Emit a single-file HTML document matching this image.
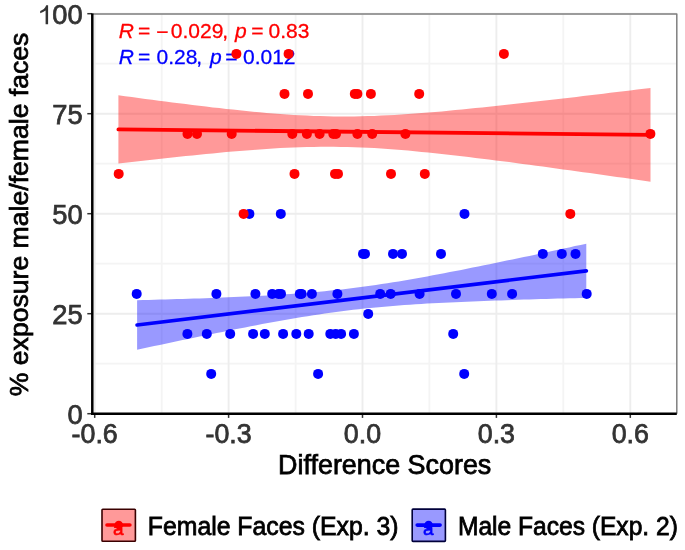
<!DOCTYPE html>
<html><head><meta charset="utf-8"><style>
html,body{margin:0;padding:0;background:#fff;}
svg{display:block;filter:blur(0.4px);}
text{font-family:"Liberation Sans",sans-serif;}
</style></head><body>
<svg width="685" height="550" viewBox="0 0 685 550">
<rect x="0" y="0" width="685" height="550" fill="#fff"/>
<g stroke="#F4F4F4" stroke-width="1.8"><line x1="161.7" y1="14.0" x2="161.7" y2="413.7"/><line x1="295.6" y1="14.0" x2="295.6" y2="413.7"/><line x1="429.4" y1="14.0" x2="429.4" y2="413.7"/><line x1="563.3" y1="14.0" x2="563.3" y2="413.7"/><line x1="92.3" y1="363.7" x2="676.8" y2="363.7"/><line x1="92.3" y1="263.7" x2="676.8" y2="263.7"/><line x1="92.3" y1="163.7" x2="676.8" y2="163.7"/><line x1="92.3" y1="63.7" x2="676.8" y2="63.7"/></g>
<g stroke="#EDEDED" stroke-width="1.9"><line x1="94.7" y1="14.0" x2="94.7" y2="413.7"/><line x1="228.6" y1="14.0" x2="228.6" y2="413.7"/><line x1="362.5" y1="14.0" x2="362.5" y2="413.7"/><line x1="496.4" y1="14.0" x2="496.4" y2="413.7"/><line x1="630.3" y1="14.0" x2="630.3" y2="413.7"/><line x1="92.3" y1="413.7" x2="676.8" y2="413.7"/><line x1="92.3" y1="313.7" x2="676.8" y2="313.7"/><line x1="92.3" y1="213.7" x2="676.8" y2="213.7"/><line x1="92.3" y1="113.7" x2="676.8" y2="113.7"/><line x1="92.3" y1="13.7" x2="676.8" y2="13.7"/></g>
<path d="M137.1,300.2 L142.8,300.1 L148.5,299.9 L154.2,299.8 L159.8,299.6 L165.5,299.4 L171.2,299.3 L176.9,299.1 L182.6,298.9 L188.3,298.7 L194.0,298.6 L199.6,298.4 L205.3,298.2 L211.0,298.0 L216.7,297.7 L222.4,297.5 L228.1,297.3 L233.8,297.0 L239.4,296.8 L245.1,296.5 L250.8,296.3 L256.5,296.0 L262.2,295.7 L267.9,295.4 L273.6,295.0 L279.3,294.7 L284.9,294.3 L290.6,294.0 L296.3,293.6 L302.0,293.1 L307.7,292.7 L313.4,292.2 L319.1,291.7 L324.7,291.2 L330.4,290.6 L336.1,290.0 L341.8,289.4 L347.5,288.7 L353.2,288.0 L358.9,287.3 L364.5,286.5 L370.2,285.7 L375.9,284.9 L381.6,284.1 L387.3,283.2 L393.0,282.3 L398.7,281.4 L404.3,280.4 L410.0,279.4 L415.7,278.4 L421.4,277.4 L427.1,276.4 L432.8,275.3 L438.5,274.3 L444.1,273.2 L449.8,272.1 L455.5,271.0 L461.2,269.9 L466.9,268.8 L472.6,267.6 L478.3,266.5 L484.0,265.3 L489.6,264.2 L495.3,263.0 L501.0,261.8 L506.7,260.6 L512.4,259.5 L518.1,258.3 L523.8,257.1 L529.4,255.9 L535.1,254.7 L540.8,253.5 L546.5,252.2 L552.2,251.0 L557.9,249.8 L563.6,248.6 L569.2,247.4 L574.9,246.1 L580.6,244.9 L586.3,243.7 L586.3,297.9 L580.6,298.1 L574.9,298.2 L569.2,298.3 L563.6,298.5 L557.9,298.6 L552.2,298.8 L546.5,299.0 L540.8,299.1 L535.1,299.3 L529.4,299.5 L523.8,299.6 L518.1,299.8 L512.4,300.0 L506.7,300.2 L501.0,300.4 L495.3,300.6 L489.6,300.8 L484.0,301.0 L478.3,301.2 L472.6,301.4 L466.9,301.7 L461.2,301.9 L455.5,302.2 L449.8,302.4 L444.1,302.7 L438.5,303.0 L432.8,303.3 L427.1,303.6 L421.4,304.0 L415.7,304.3 L410.0,304.7 L404.3,305.1 L398.7,305.5 L393.0,306.0 L387.3,306.4 L381.6,306.9 L375.9,307.4 L370.2,308.0 L364.5,308.6 L358.9,309.2 L353.2,309.8 L347.5,310.5 L341.8,311.2 L336.1,312.0 L330.4,312.8 L324.7,313.6 L319.1,314.4 L313.4,315.3 L307.7,316.2 L302.0,317.1 L296.3,318.0 L290.6,319.0 L284.9,320.0 L279.3,321.0 L273.6,322.0 L267.9,323.1 L262.2,324.1 L256.5,325.2 L250.8,326.3 L245.1,327.4 L239.4,328.5 L233.8,329.6 L228.1,330.8 L222.4,331.9 L216.7,333.1 L211.0,334.2 L205.3,335.4 L199.6,336.5 L194.0,337.7 L188.3,338.9 L182.6,340.1 L176.9,341.3 L171.2,342.5 L165.5,343.7 L159.8,344.9 L154.2,346.1 L148.5,347.3 L142.8,348.5 L137.1,349.8 Z" fill="#0000FF" fill-opacity="0.4"/>
<path d="M118.4,95.3 L125.1,96.2 L131.9,97.1 L138.6,98.0 L145.3,98.9 L152.1,99.8 L158.8,100.7 L165.5,101.6 L172.3,102.4 L179.0,103.3 L185.8,104.1 L192.5,104.9 L199.2,105.8 L206.0,106.6 L212.7,107.4 L219.4,108.1 L226.2,108.9 L232.9,109.6 L239.6,110.3 L246.4,111.0 L253.1,111.7 L259.8,112.3 L266.6,112.9 L273.3,113.5 L280.1,114.0 L286.8,114.5 L293.5,114.9 L300.3,115.3 L307.0,115.6 L313.7,115.9 L320.5,116.1 L327.2,116.3 L333.9,116.4 L340.7,116.5 L347.4,116.5 L354.1,116.4 L360.9,116.3 L367.6,116.1 L374.3,115.9 L381.1,115.6 L387.8,115.3 L394.6,114.9 L401.3,114.5 L408.0,114.0 L414.8,113.6 L421.5,113.1 L428.2,112.5 L435.0,112.0 L441.7,111.4 L448.4,110.8 L455.2,110.1 L461.9,109.5 L468.6,108.8 L475.4,108.1 L482.1,107.5 L488.8,106.8 L495.6,106.0 L502.3,105.3 L509.1,104.6 L515.8,103.8 L522.5,103.1 L529.3,102.3 L536.0,101.6 L542.7,100.8 L549.5,100.0 L556.2,99.2 L562.9,98.5 L569.7,97.7 L576.4,96.9 L583.1,96.1 L589.9,95.3 L596.6,94.5 L603.4,93.7 L610.1,92.8 L616.8,92.0 L623.6,91.2 L630.3,90.4 L637.0,89.6 L643.8,88.7 L650.5,87.9 L650.5,181.7 L643.8,180.7 L637.0,179.8 L630.3,178.8 L623.6,177.8 L616.8,176.9 L610.1,175.9 L603.4,175.0 L596.6,174.0 L589.9,173.1 L583.1,172.2 L576.4,171.2 L569.7,170.3 L562.9,169.4 L556.2,168.4 L549.5,167.5 L542.7,166.6 L536.0,165.7 L529.3,164.8 L522.5,163.9 L515.8,163.0 L509.1,162.1 L502.3,161.3 L495.6,160.4 L488.8,159.6 L482.1,158.7 L475.4,157.9 L468.6,157.1 L461.9,156.3 L455.2,155.5 L448.4,154.7 L441.7,154.0 L435.0,153.3 L428.2,152.6 L421.5,151.9 L414.8,151.3 L408.0,150.6 L401.3,150.1 L394.6,149.5 L387.8,149.0 L381.1,148.6 L374.3,148.1 L367.6,147.8 L360.9,147.5 L354.1,147.2 L347.4,147.0 L340.7,146.9 L333.9,146.8 L327.2,146.7 L320.5,146.8 L313.7,146.9 L307.0,147.0 L300.3,147.2 L293.5,147.5 L286.8,147.8 L280.1,148.1 L273.3,148.5 L266.6,148.9 L259.8,149.4 L253.1,149.9 L246.4,150.4 L239.6,150.9 L232.9,151.5 L226.2,152.1 L219.4,152.7 L212.7,153.4 L206.0,154.0 L199.2,154.7 L192.5,155.4 L185.8,156.0 L179.0,156.8 L172.3,157.5 L165.5,158.2 L158.8,158.9 L152.1,159.7 L145.3,160.4 L138.6,161.2 L131.9,162.0 L125.1,162.7 L118.4,163.5 Z" fill="#FF0000" fill-opacity="0.4"/>
<line x1="137.1" y1="325.0" x2="586.3" y2="270.8" stroke="#0000FF" stroke-width="3.7" stroke-linecap="round"/>
<line x1="118.4" y1="129.4" x2="650.5" y2="134.8" stroke="#FF0000" stroke-width="3.8" stroke-linecap="round"/>
<g font-size="21" fill="#FF0000" stroke="#FF0000" stroke-width="0.3">
<text x="118.8" y="37.6" font-style="italic">R</text><text x="138.1" y="37.6">=</text><text x="156.3" y="39.3">&#8722;</text><text x="170.8" y="37.6">0.029</text><text x="222.2" y="37.6">,</text><text x="234.9" y="37.6" font-style="italic">p</text><text x="251.2" y="37.6">=</text><text x="268.6" y="37.6">0.83</text>
</g>
<g font-size="21" fill="#0000FF" stroke="#0000FF" stroke-width="0.3">
<text x="118.8" y="63.6" font-style="italic">R</text><text x="138.1" y="63.6">=</text><text x="156.5" y="63.6">0.28</text><text x="196.3" y="63.6">,</text><text x="210" y="63.6" font-style="italic">p</text><text x="225.3" y="63.6">=</text><text x="243.0" y="63.6">0.012</text>
</g>
<g fill="#0000FF"><circle cx="249.4" cy="213.9" r="5.0"/><circle cx="280.8" cy="213.9" r="5.0"/><circle cx="464.5" cy="213.9" r="5.0"/><circle cx="363.0" cy="253.9" r="5.0"/><circle cx="365.0" cy="253.9" r="5.0"/><circle cx="393.0" cy="253.9" r="5.0"/><circle cx="402.0" cy="253.9" r="5.0"/><circle cx="441.0" cy="253.9" r="5.0"/><circle cx="542.8" cy="253.9" r="5.0"/><circle cx="561.8" cy="253.9" r="5.0"/><circle cx="575.5" cy="253.9" r="5.0"/><circle cx="136.7" cy="293.9" r="5.0"/><circle cx="216.4" cy="293.9" r="5.0"/><circle cx="255.4" cy="293.9" r="5.0"/><circle cx="272.2" cy="293.9" r="5.0"/><circle cx="278.5" cy="293.9" r="5.0"/><circle cx="281.0" cy="293.9" r="5.0"/><circle cx="299.8" cy="293.9" r="5.0"/><circle cx="301.6" cy="293.9" r="5.0"/><circle cx="311.9" cy="293.9" r="5.0"/><circle cx="337.4" cy="293.9" r="5.0"/><circle cx="380.2" cy="293.9" r="5.0"/><circle cx="390.7" cy="293.9" r="5.0"/><circle cx="419.6" cy="293.9" r="5.0"/><circle cx="456.0" cy="293.9" r="5.0"/><circle cx="491.8" cy="293.9" r="5.0"/><circle cx="512.1" cy="293.9" r="5.0"/><circle cx="586.7" cy="293.9" r="5.0"/><circle cx="368.2" cy="313.9" r="5.0"/><circle cx="187.4" cy="333.9" r="5.0"/><circle cx="206.8" cy="333.9" r="5.0"/><circle cx="230.2" cy="333.9" r="5.0"/><circle cx="253.1" cy="333.9" r="5.0"/><circle cx="264.8" cy="333.9" r="5.0"/><circle cx="283.1" cy="333.9" r="5.0"/><circle cx="296.3" cy="333.9" r="5.0"/><circle cx="308.7" cy="333.9" r="5.0"/><circle cx="330.3" cy="333.9" r="5.0"/><circle cx="335.7" cy="333.9" r="5.0"/><circle cx="341.1" cy="333.9" r="5.0"/><circle cx="353.9" cy="333.9" r="5.0"/><circle cx="453.2" cy="333.9" r="5.0"/><circle cx="211.2" cy="373.9" r="5.0"/><circle cx="318.1" cy="373.9" r="5.0"/><circle cx="464.2" cy="373.9" r="5.0"/></g>
<g fill="#FF0000"><circle cx="236.4" cy="53.9" r="5.0"/><circle cx="288.6" cy="53.9" r="5.0"/><circle cx="503.9" cy="53.9" r="5.0"/><circle cx="284.5" cy="93.9" r="5.0"/><circle cx="308.0" cy="93.9" r="5.0"/><circle cx="354.8" cy="93.9" r="5.0"/><circle cx="357.4" cy="93.9" r="5.0"/><circle cx="370.9" cy="93.9" r="5.0"/><circle cx="419.2" cy="93.9" r="5.0"/><circle cx="187.5" cy="133.9" r="5.0"/><circle cx="197.0" cy="133.9" r="5.0"/><circle cx="231.7" cy="133.9" r="5.0"/><circle cx="292.3" cy="133.9" r="5.0"/><circle cx="306.9" cy="133.9" r="5.0"/><circle cx="319.6" cy="133.9" r="5.0"/><circle cx="333.3" cy="133.9" r="5.0"/><circle cx="336.0" cy="133.9" r="5.0"/><circle cx="357.4" cy="133.9" r="5.0"/><circle cx="372.2" cy="133.9" r="5.0"/><circle cx="405.4" cy="133.9" r="5.0"/><circle cx="650.4" cy="133.9" r="5.0"/><circle cx="118.7" cy="173.9" r="5.0"/><circle cx="294.5" cy="173.9" r="5.0"/><circle cx="335.0" cy="173.9" r="5.0"/><circle cx="338.0" cy="173.9" r="5.0"/><circle cx="391.0" cy="173.9" r="5.0"/><circle cx="424.8" cy="173.9" r="5.0"/><circle cx="243.6" cy="213.9" r="5.0"/><circle cx="570.3" cy="213.9" r="5.0"/></g>
<polyline points="92.3,14.0 676.8,14.0 676.8,413.7" fill="none" stroke="#808080" stroke-width="1.5" stroke-linejoin="round"/>
<g stroke="#333" stroke-width="1.5"><line x1="94.7" y1="413.7" x2="94.7" y2="417.9"/><line x1="228.6" y1="413.7" x2="228.6" y2="417.9"/><line x1="362.5" y1="413.7" x2="362.5" y2="417.9"/><line x1="496.4" y1="413.7" x2="496.4" y2="417.9"/><line x1="630.3" y1="413.7" x2="630.3" y2="417.9"/><line x1="87.3" y1="413.7" x2="92.3" y2="413.7"/><line x1="87.3" y1="313.7" x2="92.3" y2="313.7"/><line x1="87.3" y1="213.7" x2="92.3" y2="213.7"/><line x1="87.3" y1="113.7" x2="92.3" y2="113.7"/><line x1="87.3" y1="13.7" x2="92.3" y2="13.7"/></g>
<line x1="92.3" y1="13.5" x2="92.3" y2="414.9" stroke="#000" stroke-width="2.5"/>
<line x1="91.1" y1="413.7" x2="676.8" y2="413.7" stroke="#000" stroke-width="2.5"/>
<path d="M40.2,11.0 C42.9,10.1 45.3,8.3 46.2,5.3 L48.1,5.3 L48.1,24.2 L45.6,24.2 L45.6,10.6 C44.1,11.8 42.2,12.7 40.2,13.3 Z" fill="#333"/><text x="82.6" y="24.1" font-size="27.30" fill="#333" text-anchor="end" stroke="#333" stroke-width="0.75">00</text><text x="82.6" y="123.5" font-size="27.30" fill="#333" text-anchor="end" stroke="#333" stroke-width="0.75">75</text><text x="82.6" y="223.5" font-size="27.30" fill="#333" text-anchor="end" stroke="#333" stroke-width="0.75">50</text><text x="82.6" y="323.5" font-size="27.30" fill="#333" text-anchor="end" stroke="#333" stroke-width="0.75">25</text><text x="82.6" y="423.5" font-size="27.30" fill="#333" text-anchor="end" stroke="#333" stroke-width="0.75">0</text>
<text x="94.7" y="443.0" font-size="26.80" fill="#333" text-anchor="middle" stroke="#333" stroke-width="0.75">-0.6</text><text x="228.6" y="443.0" font-size="26.80" fill="#333" text-anchor="middle" stroke="#333" stroke-width="0.75">-0.3</text><text x="362.5" y="443.0" font-size="26.80" fill="#333" text-anchor="middle" stroke="#333" stroke-width="0.75">0.0</text><text x="496.4" y="443.0" font-size="26.80" fill="#333" text-anchor="middle" stroke="#333" stroke-width="0.75">0.3</text><text x="630.3" y="443.0" font-size="26.80" fill="#333" text-anchor="middle" stroke="#333" stroke-width="0.75">0.6</text>
<text x="384.7" y="473.5" font-size="26.90" fill="#000" text-anchor="middle" stroke="#000" stroke-width="0.75">Difference Scores</text>
<text transform="translate(28,214.4) rotate(-90) scale(1,1.000)" font-size="26.6" fill="#000" stroke="#000" stroke-width="0.75" text-anchor="middle">% exposure male/female faces</text>
<g>
<rect x="102" y="509.2" width="33.4" height="32" rx="0.8" fill="#FF0000" fill-opacity="0.4" stroke="#3A0000" stroke-width="1.6"/>
<text x="118.2" y="535" font-size="19" stroke="#FF0000" stroke-width="0.6" fill="#FF0000" text-anchor="middle">a</text>
<line x1="107" y1="525" x2="129.9" y2="525" stroke="#FF0000" stroke-width="3.6" stroke-linecap="round"/>
<circle cx="118.75" cy="525" r="4.3" fill="#FF0000"/>
<text transform="translate(147.8,534.6) scale(1,1.040)" font-size="24.80" fill="#000" stroke="#000" stroke-width="0.75">Female Faces (Exp. 3)</text>
<rect x="412.2" y="509.1" width="33.2" height="32.3" rx="0.8" fill="#0000FF" fill-opacity="0.4" stroke="#00003A" stroke-width="1.6"/>
<text x="428.4" y="535" font-size="19" stroke="#0000FF" stroke-width="0.6" fill="#0000FF" text-anchor="middle">a</text>
<line x1="417.2" y1="525.1" x2="440.1" y2="525.1" stroke="#0000FF" stroke-width="3.6" stroke-linecap="round"/>
<circle cx="428.6" cy="525" r="4.3" fill="#0000FF"/>
<text transform="translate(457.9,534.6) scale(1,1.040)" font-size="24.60" fill="#000" stroke="#000" stroke-width="0.75">Male Faces (Exp. 2)</text>
</g>
</svg>
</body></html>
